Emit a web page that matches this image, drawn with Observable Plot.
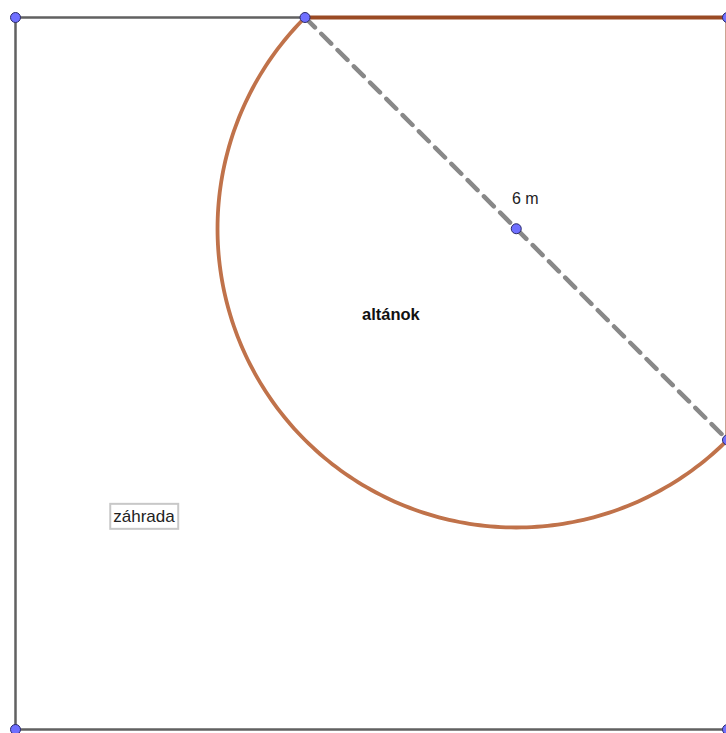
<!DOCTYPE html>
<html><head><meta charset="utf-8">
<script src="https://cdn.jsdelivr.net/npm/d3@7"></script>
<script src="https://cdn.jsdelivr.net/npm/@observablehq/plot@0.6"></script>
<style>html,body{margin:0;padding:0;background:#fff;overflow:hidden}</style>
</head><body><div id="chart"></div>
<script>
// Geometry in metres (y upward). Garden square side, gazebo diameter 6 m.
const side = 7.15;
const diameter = 6;
const leg = diameter / Math.SQRT2;
const squareCorners = [[0,0],[side,0],[side,side],[0,side],[0,0]];
const diamA = [side - leg, side];   // on top edge
const diamB = [side, side - leg];   // on right edge
const center = [(diamA[0]+diamB[0])/2, (diamA[1]+diamB[1])/2];
const radius = diameter / 2;
const arcAngles = d3.range(135, 315.5, 1); // degrees, semicircle away from corner
const arcPts = arcAngles.map(a => [center[0] + radius*Math.cos(a*Math.PI/180), center[1] + radius*Math.sin(a*Math.PI/180)]);
const points = [[0,0],[side,0],[0,side],[side,side],diamA,diamB,center];
const labelsNormal = [{x: center[0]+0.09, y: center[1]+0.3, text: "6 m"}];
const labelsBold = [{x: 3.77, y: 4.17, text: "altánok"}];
const labelsBoxed = [{x: 1.29, y: 2.14, text: "záhrada"}];

const plot = Plot.plot({
  width: 726, height: 733,
  margin: 0,
  x: {domain: [0, side], range: [15, 727], axis: null},
  y: {domain: [0, side], range: [729, 17], axis: null},
  style: {fontFamily: "'Liberation Sans', Arial, sans-serif", background: "#fff"},
  marks: [
    Plot.line(squareCorners, {stroke: "#616161", strokeWidth: 2.5}),
    Plot.line([diamA, [side, side], diamB], {stroke: "#9a4a24", strokeWidth: 4}),
    Plot.line(arcPts, {stroke: "#c0724a", strokeWidth: 3.8, curve: "linear"}),
    Plot.line([diamA, diamB], {stroke: "#888", strokeWidth: 4.5, strokeDasharray: "14,9"}),
    Plot.dot(points, {x: d => d[0], y: d => d[1], r: 5, fill: "#6f6fff", stroke: "#2a2a6a", strokeWidth: 1}),
    Plot.text(labelsNormal, {x: "x", y: "y", text: "text", fontSize: 16, fill: "#222"}),
    Plot.text(labelsBold, {x: "x", y: "y", text: "text", fontSize: 16.5, fontWeight: "bold", fill: "#111"}),
    Plot.text(labelsBoxed, {x: "x", y: "y", text: "text", fontSize: 17, fill: "#222"})
  ]
});
document.getElementById("chart").appendChild(plot);
// box around "záhrada"
const svg = d3.select(plot);
const t = svg.selectAll("text").filter(function(){ return this.textContent === "záhrada"; }).node();
if (t) {
  const b = t.getBBox();
  const g = d3.select(t.parentNode);
  g.insert("rect", () => t)
    .attr("transform", t.getAttribute("transform"))
    .attr("x", b.x - 3).attr("y", b.y - 3).attr("width", b.width + 6).attr("height", b.height + 6)
    .attr("fill", "#fff").attr("stroke", "#c8c8c8").attr("stroke-width", 2);
}
</script></body></html>
